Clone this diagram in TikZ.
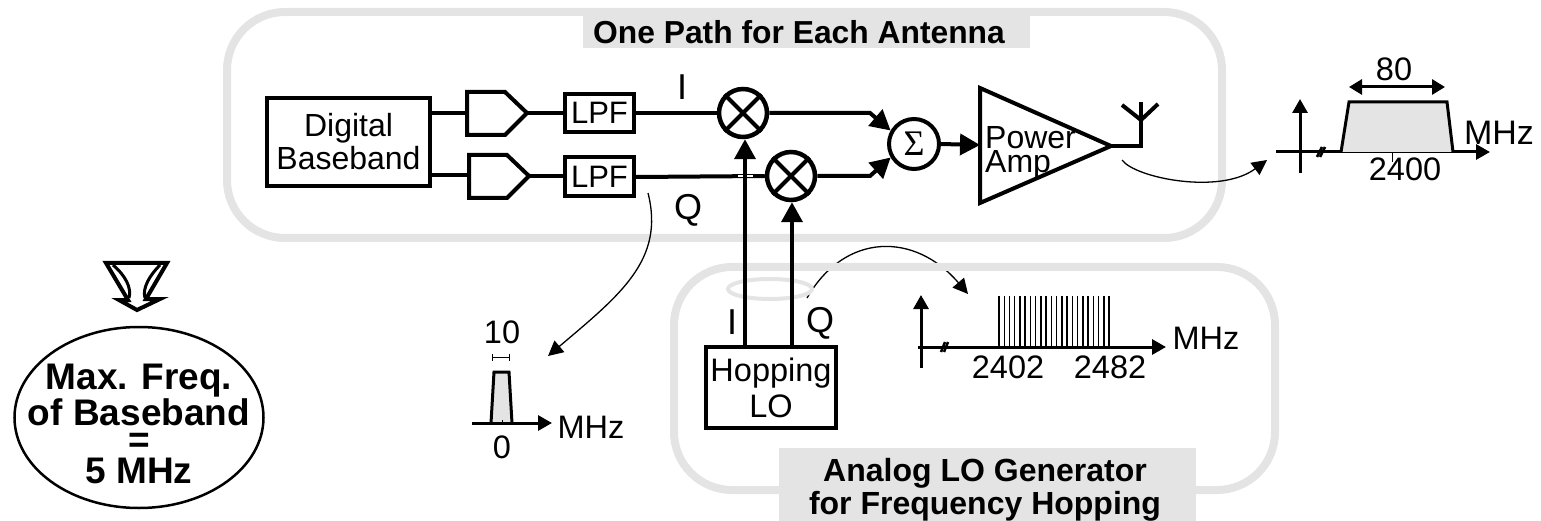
\documentclass[tikz,border=0pt]{standalone}
\usepackage{fontspec}
\setmainfont{Liberation Sans}
\newfontfamily\sigmafont{Liberation Serif}
\usetikzlibrary{arrows.meta,shapes.geometric,calc}
\definecolor{frameg}{HTML}{E4E4E4}
\tikzset{
  x=1pt,y=-1pt,
  sz/.style={font=\fontsize{#1}{#1}\selectfont,text height=0.716*#1 pt,text depth=0pt,inner sep=0pt},
  lab/.style={sz=32.5},
  frame/.style={draw=frameg,line width=8pt,rounded corners=58pt},
  greybar/.style={fill=frameg,draw=none,inner sep=0pt},
  wire/.style={line width=4pt},
  hw/.style={wire,-{Triangle[length=20pt,width=21pt]}},
  axis/.style={line width=3pt,-{Triangle[length=14pt,width=15pt]}},
  curv/.style={line width=1.3pt,-{Triangle[length=15pt,width=15pt]}},
  blockbox/.style={draw,line width=4pt,inner sep=0pt,align=center},
  mixer/.style={draw,circle,line width=4.5pt,minimum size=48pt,inner sep=0pt},
  hollow/.style={line width=4pt,line join=miter},
}
\begin{document}
\begin{tikzpicture}
\useasboundingbox (0,0) rectangle (1541,521);
% --- LO spectrum curve lies beneath the LO frame
\coordinate (locs) at (807,298);
\coordinate (loce) at (968,294);
\draw[curv] (locs) .. controls (845,232) and (915,232) .. (loce);
% --- frames
\draw[frame] (227,12) rectangle (1222,238);
\draw[frame] (674,267) rectangle (1275,490);
\node[greybar,minimum width=447pt,minimum height=32pt] (title1bg) at (806.5,32) {};
\node[font=\fontsize{31.8}{32}\selectfont\bfseries,text height=22.8pt,text depth=0pt,inner sep=0pt] (title1) at (799,32) {One Path for Each Antenna};
\node[greybar,minimum width=417pt,minimum height=73pt] (title2bg) at (987.5,484.5) {};
\node[font=\fontsize{32}{33}\selectfont\bfseries,align=center,inner sep=0pt] (title2) at (985,490) {Analog LO Generator\\for Frequency Hopping};
\draw[draw=frameg,line width=4pt] (770,289) ellipse [x radius=42,y radius=10];
% --- baseband
\node[blockbox,minimum width=163pt,minimum height=88pt,font=\fontsize{32}{33}\selectfont] (dbb) at (348.5,142) {Digital\\Baseband};
\coordinate (d1a) at (467,92); \coordinate (d1tip) at (527,113); \coordinate (d1b) at (467,135);
\coordinate (d1in) at (467,113);
\draw[wire,line join=miter] (d1a) -- (505,92) -- (d1tip) -- (505,135) -- (d1b) -- cycle;
\coordinate (d2a) at (469,155); \coordinate (d2tip) at (529,176); \coordinate (d2b) at (469,198);
\coordinate (d2in) at (469,175);
\draw[wire,line join=miter] (d2a) -- (507,155) -- (d2tip) -- (507,198) -- (d2b) -- cycle;
\node[blockbox,minimum width=69pt,minimum height=38pt,font=\fontsize{31}{31}\selectfont] (lpf1) at (599.5,113) {LPF};
\node[blockbox,minimum width=69pt,minimum height=39pt,font=\fontsize{31}{31}\selectfont] (lpf2) at (599.5,177) {LPF};
\node[mixer] (m1) at (743,113) {};
\node[mixer] (m2) at (791,176) {};
\foreach \m in {m1,m2}{
  \draw[line width=4pt] (\m.45) -- (\m.225);
  \draw[line width=4pt] (\m.135) -- (\m.315);
}
\node[draw,circle,line width=4pt,minimum size=50pt,inner sep=0pt,font=\fontsize{36}{36}\selectfont\sigmafont] (sum) at (914,144) {Σ};
\coordinate (pa1) at (980,88); \coordinate (pa2) at (980,203); \coordinate (patip) at (1111,146); \coordinate (pain) at (980,145);
\draw[wire,line join=miter] (pa1) -- (patip) -- (pa2) -- cycle;
\node[anchor=west,font=\fontsize{32}{24}\selectfont,align=left,inner sep=0pt] (patext) at (985,152.5) {Power\\Amp};
% antenna
\coordinate (antb) at (1141,146); \coordinate (antf) at (1141,120);
\draw[wire] (patip) -- (antb) -- (1141,102);
\coordinate (antl) at (1122,105); \coordinate (antr) at (1158,104);
\draw[wire] (antl) -- (antf) -- (antr);
% wires
\draw[wire] (dbb.east |- d1in) -- (d1in);
\draw[wire] (dbb.east |- d2in) -- (d2in);
\draw[wire] (d1tip) -- (lpf1.west |- d1tip);
\draw[wire] (d2tip) -- (lpf2.west |- d2tip);
\draw[wire] (lpf1.east) -- (m1.west);
\draw[wire] (lpf2.east) -- (m2.west);
\draw[wire,white,line width=1.6pt] (738,176) -- (753,176);
\node[blockbox,minimum width=130pt,minimum height=81pt,font=\fontsize{32.5}{36}\selectfont] (lo) at (771,387.5) {Hopping\\LO};
\coordinate (ioutb) at (745,347); \coordinate (qoutb) at (792,347);
\draw[hw] (ioutb) -- (m1.south -| ioutb);
\draw[hw] (qoutb) -- (m2.south -| qoutb);
\draw[hw] (m1.east) -- (870,113) -- (sum.150);
\draw[hw] (m2.east) -- (870,176) -- (sum.210);
\draw[hw] (sum.east) -- (pain);
% labels I Q
\node[sz=36] (li) at (682,87) {I};
\node[sz=36] (lq) at (688,207) {Q};
\node[sz=36] (li2) at (732,322) {I};
\node[sz=36] (lq2) at (820,320) {Q};
% --- output spectrum
\coordinate (o0) at (1276,152); \coordinate (o1) at (1490,152);
\draw[axis] (o0) -- (o1);
\draw[axis] (1300,173) -- (1300,99);
\draw[line width=2.5pt] (1317,157) -- (1322,147);
\draw[line width=2.5pt] (1320,157) -- (1325,147);
\draw[line width=3pt,fill=frameg,line join=miter] (1341,152) -- (1349,102) -- (1447,102) -- (1453,152);
\draw[line width=3pt,{Triangle[length=13pt,width=15pt]}-{Triangle[length=13pt,width=15pt]}] (1349,87) -- (1445,87);
\draw[line width=1pt] (1392,152) -- (1392,162);
\node[lab] (t80) at (1394,69) {80};
\node[lab] (t2400) at (1405,169) {2400};
\node[sz=34] (tmhz1) at (1499,132) {MHz};
\coordinate (pacs) at (1122,160);
\coordinate (pace) at (1267,160);
\draw[curv] (pacs) .. controls (1135,178) and (1220,195) .. (pace);
% --- LO spectrum
\coordinate (c0) at (918,347); \coordinate (c1) at (1166,347);
\foreach \i in {0,...,21}{ \draw[line width=1.5pt] ({999+\i*5.24},296) -- ({999+\i*5.24},347); }
\draw[axis] (c0) -- (c1);
\draw[axis] (921,368) -- (921,295);
\draw[line width=2.5pt] (941,352) -- (945,342);
\draw[line width=2.5pt] (944,352) -- (948,342);
\node[lab] (t2402) at (1008,367) {2402};
\node[lab] (t2482) at (1110,367) {2482};
\node[lab] (tmhz2) at (1206,338) {MHz};
% --- baseband spectrum
\coordinate (b0) at (472,423); \coordinate (b1) at (552,423);
\draw[line width=3pt,fill=frameg,line join=miter] (491,423) -- (494,372) -- (509,372) -- (512,423);
\draw[axis] (b0) -- (b1);
\draw[line width=1pt] (502,420) -- (502,423);
\draw[line width=1pt,|-|] (492,357) -- (510,357);
\node[lab] (t10) at (502,332) {10};
\node[lab] (t0) at (502,447) {0};
\node[lab] (tmhz3) at (591,427) {MHz};
\coordinate (bbcs) at (648,193);
\coordinate (bbce) at (548,356);
\draw[curv] (bbcs) .. controls (665,260) and (620,295) .. (bbce);
% --- summary ellipse
\node[draw,ellipse,line width=2.5pt,minimum width=249pt,minimum height=181pt,inner sep=0pt] (maxe) at (139,417.5) {};
\node[font=\fontsize{37}{34}\selectfont\bfseries,align=center,inner sep=0pt] (maxt) at (139,424) {Max. Freq.\\of Baseband\\[-7pt]=\\[-3pt]5 MHz};
% --- hollow block arrow
\coordinate (hl) at (106,263); \coordinate (hr) at (167,263); \coordinate (htip) at (137,310);
\draw[hollow,fill=white] (hl) -- (hr) -- (146,299) -- (160,299) -- (htip) -- (119,300) -- (128,300) -- cycle;
\draw[line width=3pt] (113,265) .. controls (125,275) and (132,288) .. (129,298);
\draw[line width=3pt] (160,265) .. controls (150,275) and (142,288) .. (145,298);
\end{tikzpicture}
\end{document}
